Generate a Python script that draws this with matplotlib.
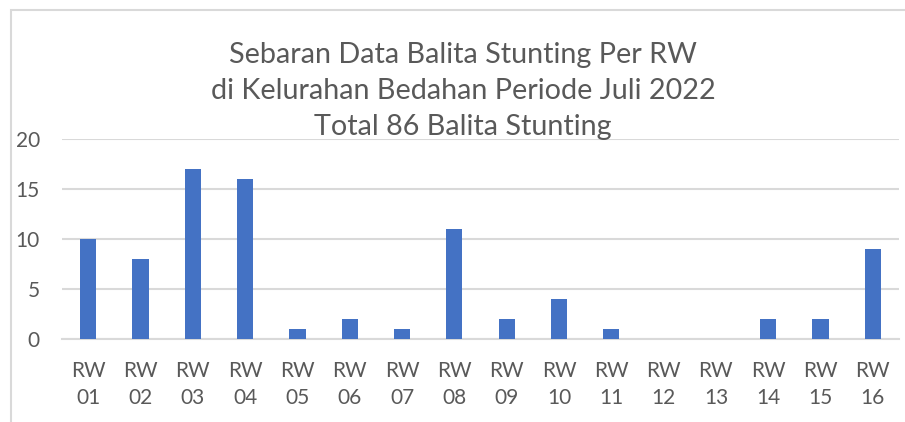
import matplotlib.pyplot as plt
from matplotlib.patches import Rectangle

rw_labels = ["RW\n01", "RW\n02", "RW\n03", "RW\n04", "RW\n05", "RW\n06", "RW\n07", "RW\n08",
             "RW\n09", "RW\n10", "RW\n11", "RW\n12", "RW\n13", "RW\n14", "RW\n15", "RW\n16"]
balita_stunting = [10, 8, 17, 16, 1, 2, 1, 11, 2, 4, 1, 0, 0, 2, 2, 9]
y_ticks = [0, 5, 10, 15, 20]

title = ("Sebaran Data Balita Stunting Per RW\n"
         "di Kelurahan Bedahan Periode Juli 2022\n"
         "Total 86 Balita Stunting")

plt.rcParams['font.family'] = ['Lato', 'DejaVu Sans']
text_color = "#595959"

fig = plt.figure(figsize=(9.05, 4.22), dpi=100)
ax = fig.add_axes([62 / 905, 1 - 339 / 422, (899 - 62) / 905, 200 / 422])

# chart border (only left and top visible in the original)
fig.patches.append(Rectangle((11 / 905, -0.1), 1.2, 1 - 10 / 422 + 0.1,
                             transform=fig.transFigure, fill=False,
                             edgecolor="#D9D9D9", linewidth=1.5))

x = list(range(len(rw_labels)))
ax.bar(x, balita_stunting, width=0.31, color="#4472C4", zorder=3)

ax.set_xlim(-0.5, len(rw_labels) - 0.5)
ax.set_ylim(0, 20)
ax.set_yticks(y_ticks)
ax.set_xticks(x)
ax.set_xticklabels(rw_labels, linespacing=1.4)
ax.grid(axis="y", color="#D9D9D9", linewidth=1.5, zorder=0)
ax.tick_params(axis="x", length=0, pad=16, labelsize=15, labelcolor=text_color)
ax.tick_params(axis="y", length=0, pad=16, labelsize=15, labelcolor=text_color)
for side in ["top", "right", "left"]:
    ax.spines[side].set_visible(False)
ax.spines["bottom"].set_color("#D9D9D9")
ax.spines["bottom"].set_linewidth(1.5)

fig.text(463 / 905, 1 - 91 / 422, title, ha="center", va="center",
         fontsize=20.7, color=text_color, linespacing=1.5)

fig.savefig("out.png", dpi=100)
